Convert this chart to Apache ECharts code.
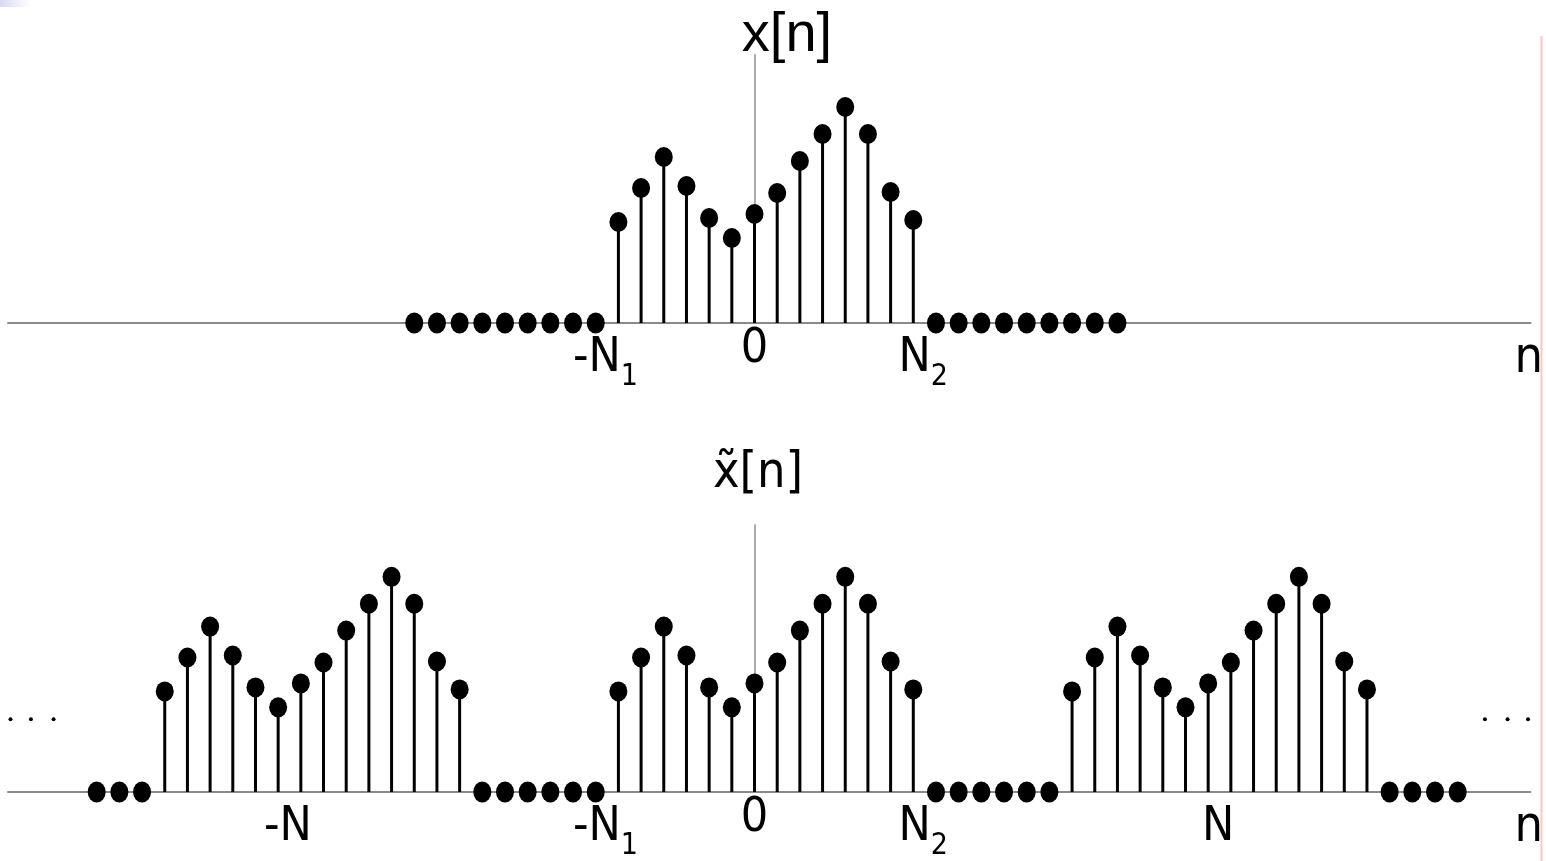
<!DOCTYPE html>
<html>
<head>
<meta charset="utf-8">
<script src="https://cdn.jsdelivr.net/npm/echarts@6/dist/echarts.min.js"></script>
<style>
  html, body { margin: 0; padding: 0; background: #fff; }
  #chart { width: 1546px; height: 861px; }
</style>
</head>
<body>
<div id="chart"></div>
<script>
// one period of the finite sequence x[n], n = -N1 .. N2
const sampleN = [-6, -5, -4, -3, -2, -1, 0, 1, 2, 3, 4, 5, 6, 7]
const sampleX = [1.01, 1.35, 1.66, 1.37, 1.05, 0.85, 1.09, 1.30, 1.62, 1.89, 2.16, 1.89, 1.31, 1.03]

// zero samples drawn as dots on the axis
const zerosTopN = [-15, -14, -13, -12, -11, -10, -9, -8, -7, 8, 9, 10, 11, 12, 13, 14, 15, 16]
const zerosBottomN = [-29, -28, -27, -12, -11, -10, -9, -8, -7, 8, 9, 10, 11, 12, 13, 28, 29, 30, 31]

// periodic extension, period N = 20
const periodShifts = [-20, 0, 20]

// the "..." on both sides of the bottom plot
const ellipsisN = [-32.8, -31.9, -30.9, 32.2, 33.2, 34.1]
const ellipsisY = 0.73

// tick labels
const tickValues = [-20, -6, 0, 7, 20, 34]
const tickMain = ['-N', '-N', '0', 'N', 'N', 'n']
const tickSub = ['', '1', '', '2', '', '']
const tickTop = [-6, 0, 7, 34]
const tickBottom = [-20, -6, 0, 7, 20, 34]

const FONT = "'Liberation Sans Narrow', 'DejaVu Sans Condensed', 'Liberation Sans', sans-serif"

const labelFormatter = (value) => {
  const i = tickValues.indexOf(value)
  if (i < 0) return ''
  const main = tickMain[i]
  const sub = tickSub[i]
  if (main === '0') return '{z|0}'
  if (main === 'n') return '{nn|n}'
  if (value < 0) {
    return sub ? `{m|${main}}{sL|${sub}}` : `{mL|${main}}`
  }
  return sub ? `{mR|${main}}{s|${sub}}` : `{mR|${main}}`
}

const richStyle = {
  m: { fontSize: 48, lineHeight: 66, fontFamily: FONT, color: '#000' },
  mL: { fontSize: 48, lineHeight: 66, fontFamily: FONT, color: '#000', padding: [0, 26, 0, 0] },
  mR: { fontSize: 48, lineHeight: 66, fontFamily: FONT, color: '#000', padding: [0, 0, 0, 20] },
  s: { fontSize: 30, lineHeight: 30, fontFamily: FONT, color: '#000', verticalAlign: 'bottom' },
  sL: { fontSize: 30, lineHeight: 30, fontFamily: FONT, color: '#000', verticalAlign: 'bottom', padding: [0, 26, 0, 0] },
  z: { fontSize: 48, lineHeight: 48, fontFamily: FONT, color: '#000' },
  nn: { fontSize: 50, lineHeight: 66, fontFamily: FONT, color: '#000', padding: [0, 0, 0, 6] }
}

const makeXAxis = (gridIndex, ticks) => ({
  type: 'value',
  gridIndex,
  min: -32.91,
  max: 34.21,
  axisLine: { lineStyle: { color: '#8a8a8a', width: 2 } },
  axisTick: { show: false },
  splitLine: { show: false },
  axisLabel: {
    customValues: ticks,
    margin: 3,
    formatter: labelFormatter,
    rich: richStyle
  }
})

const makeYAxis = (gridIndex) => ({
  type: 'value',
  gridIndex,
  min: 0,
  max: 2.68,
  axisLine: { show: true, lineStyle: { color: '#aaaaaa', width: 2 } },
  axisTick: { show: false },
  axisLabel: { show: false },
  splitLine: { show: false }
})

const topStems = sampleN.map((n, i) => [n, sampleX[i]])
const bottomStems = []
periodShifts.forEach(shift => {
  sampleN.forEach((n, i) => bottomStems.push([n + shift, sampleX[i]]))
})

const stemSeries = (idx, data) => ({
  type: 'bar',
  xAxisIndex: idx,
  yAxisIndex: idx,
  data,
  barWidth: 3,
  itemStyle: { color: '#000', opacity: 1 },
  silent: true,
  z: 3
})

const dotSeries = (idx, data, size) => ({
  type: 'scatter',
  xAxisIndex: idx,
  yAxisIndex: idx,
  data,
  symbol: 'circle',
  symbolSize: size,
  itemStyle: { color: '#000', opacity: 1 },
  silent: true,
  z: 4
})

const chart = echarts.init(document.getElementById('chart'))

chart.setOption({
  animation: false,
  backgroundColor: '#fff',
  grid: [
    { left: 8, right: 11, top: 55, height: 268 },
    { left: 8, right: 11, top: 525, height: 268 }
  ],
  xAxis: [makeXAxis(0, tickTop), makeXAxis(1, tickBottom)],
  yAxis: [makeYAxis(0), makeYAxis(1)],
  series: [
    stemSeries(0, topStems),
    dotSeries(0, topStems, [18, 20]),
    dotSeries(0, zerosTopN.map(n => [n, 0]), [18, 21]),
    stemSeries(1, bottomStems),
    dotSeries(1, bottomStems, [18, 20]),
    dotSeries(1, zerosBottomN.map(n => [n, 0]), [18, 21]),
    dotSeries(1, ellipsisN.map(n => [n, ellipsisY]), 4)
  ],
  graphic: [
    {
      type: 'text',
      x: 787,
      y: 36,
      z: 10,
      style: {
        text: 'x[n]',
        font: "56px 'Liberation Sans', sans-serif",
        fill: '#000',
        align: 'center',
        verticalAlign: 'middle'
      }
    },
    {
      type: 'text',
      x: 758,
      y: 474,
      z: 10,
      style: {
        text: 'x\u0303[n]',
        font: "50px " + FONT,
        fill: '#000',
        align: 'center',
        verticalAlign: 'middle'
      }
    },
    {
      type: 'line',
      z: 10,
      shape: { x1: 1541.5, y1: 36, x2: 1541.5, y2: 861 },
      style: { stroke: '#ffc4c4', lineWidth: 2 }
    },
    {
      type: 'rect',
      z: 10,
      shape: { x: 0, y: 0, width: 30, height: 7 },
      style: {
        fill: new echarts.graphic.LinearGradient(0, 0, 1, 0, [
          { offset: 0, color: '#d8d8f4' },
          { offset: 1, color: '#ffffff' }
        ])
      }
    }
  ]
})
</script>
</body>
</html>
